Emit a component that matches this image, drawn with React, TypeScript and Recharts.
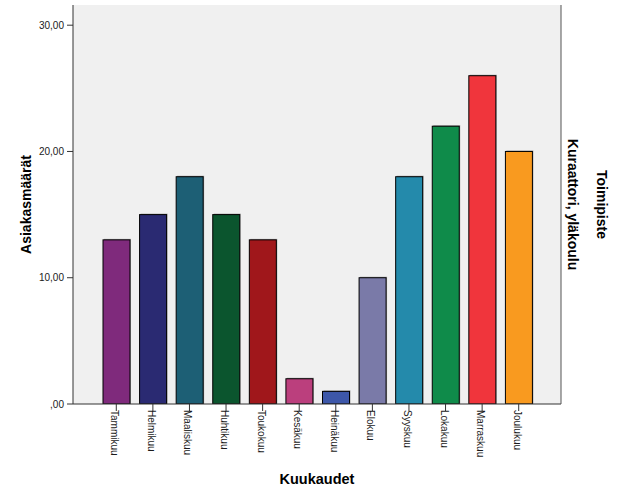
import React from "react";
import { BarChart, Bar, XAxis, YAxis, Cell, CartesianGrid } from "recharts";

const months = [
  "Tammikuu", "Helmikuu", "Maaliskuu", "Huhtikuu", "Toukokuu", "Kesäkuu",
  "Heinäkuu", "Elokuu", "Syyskuu", "Lokakuu", "Marraskuu", "Joulukuu",
];
const counts = [13, 15, 18, 15, 13, 2, 1, 10, 18, 22, 26, 20];
const barColors = [
  "#7f2a7c", "#2a2a72", "#1d5f75", "#0b552e", "#a0171b", "#bb3f7d",
  "#3d57a9", "#7a7aa8", "#248aab", "#0f8b4a", "#f0353c", "#f99a1f",
];
const yTicks = [0, 10, 20, 30];
const yTitle = "Asiakasmäärät";
const xTitle = "Kuukaudet";
const panelTitle = "Toimipiste";
const panelValue = "Kuraattori, yläkoulu";

const data = months.map((m, i) => ({ month: m, value: counts[i] }));

const FONT = '"Liberation Sans", Arial, sans-serif';

const fmt = (v: number) => (v === 0 ? ",00" : v.toFixed(2).replace(".", ","));

const MonthTick = (props: any) => {
  const { x, y, payload } = props;
  return (
    <g transform={`translate(${x},${y})`}>
      <text
        transform="rotate(90)"
        x={-1}
        y={5}
        textAnchor="start"
        fontSize={10}
        fontFamily={FONT}
        fill="#1a1a1a"
      >
        {payload.value}
      </text>
    </g>
  );
};

const YTitle = (props: any) => {
  const vb = props.viewBox || { x: 0, y: 5, width: 73, height: 399 };
  const cx = vb.x + 31;
  const cy = vb.y + vb.height / 2;
  return (
    <text
      x={cx}
      y={cy}
      transform={`rotate(-90 ${cx} ${cy})`}
      textAnchor="middle"
      fontSize={14}
      fontWeight="bold"
      fontFamily={FONT}
      fill="#000"
    >
      {yTitle}
    </text>
  );
};

const XTitle = (props: any) => {
  const vb = props.viewBox || { x: 73, y: 404, width: 488, height: 97 };
  const cx = vb.x + vb.width / 2;
  const cy = vb.y + 80;
  return (
    <text
      x={cx}
      y={cy}
      textAnchor="middle"
      fontSize={14.5}
      fontWeight="bold"
      fontFamily={FONT}
      fill="#000"
    >
      {xTitle}
    </text>
  );
};

const PanelTitle = (props: any) => {
  const vb = props.viewBox || { x: 561, y: 5, width: 65, height: 399 };
  const cy = vb.y + vb.height / 2;
  const b1 = vb.x + 36;
  const b2 = vb.x + 7;
  return (
    <g>
      <text
        x={b1}
        y={cy}
        transform={`rotate(90 ${b1} ${cy})`}
        textAnchor="middle"
        fontSize={14}
        fontWeight="bold"
        fontFamily={FONT}
        fill="#000"
      >
        {panelTitle}
      </text>
      <text
        x={b2}
        y={cy}
        transform={`rotate(90 ${b2} ${cy})`}
        textAnchor="middle"
        fontSize={14}
        fontWeight="bold"
        fontFamily={FONT}
        fill="#000"
      >
        {panelValue}
      </text>
    </g>
  );
};

const BarShape = (props: any) => {
  const { x, y, width, height, fill } = props;
  if (!height || height <= 0) return null;
  return (
    <g>
      <rect x={x + 1} y={y - 1} width={width} height={height + 1} fill="rgba(0,0,0,0.3)" />
      <rect x={x} y={y} width={width} height={height} fill={fill} stroke="#000" strokeWidth={1} />
    </g>
  );
};

export default function App() {
  return (
    <div style={{ position: "absolute", left: 0, top: 0, background: "#fff" }}>
      <BarChart
        width={626}
        height={501}
        data={data}
        margin={{ top: 5, right: 0, bottom: 0, left: 0 }}
      >
        <CartesianGrid fill="#f0f0f0" horizontal={false} vertical={false} />
        <XAxis
          dataKey="month"
          type="category"
          height={97}
          padding={{ left: 25, right: 24 }}
          interval={0}
          tickSize={7}
          tickMargin={0}
          tick={<MonthTick />}
          tickLine={{ stroke: "#333" }}
          axisLine={{ stroke: "#333" }}
          label={<XTitle />}
        />
        <XAxis
          xAxisId="top"
          dataKey="month"
          orientation="top"
          height={0}
          tick={false}
          tickLine={false}
          axisLine={{ stroke: "#555" }}
        />
        <YAxis
          width={73}
          domain={[0, 31.6]}
          ticks={yTicks}
          tickFormatter={fmt}
          tickSize={6}
          tickMargin={3}
          tick={{ fontSize: 10, fontFamily: FONT, fill: "#1a1a1a" }}
          tickLine={{ stroke: "#333" }}
          axisLine={{ stroke: "#333" }}
          allowDataOverflow
          label={<YTitle />}
        />
        <YAxis
          yAxisId="r"
          orientation="right"
          width={65}
          domain={[0, 31.6]}
          tick={false}
          tickLine={false}
          axisLine={{ stroke: "#555" }}
          label={<PanelTitle />}
        />
        <Bar dataKey="value" barSize={27} isAnimationActive={false} shape={<BarShape />}>
          {data.map((d, i) => (
            <Cell key={d.month} fill={barColors[i]} />
          ))}
        </Bar>
      </BarChart>
    </div>
  );
}
